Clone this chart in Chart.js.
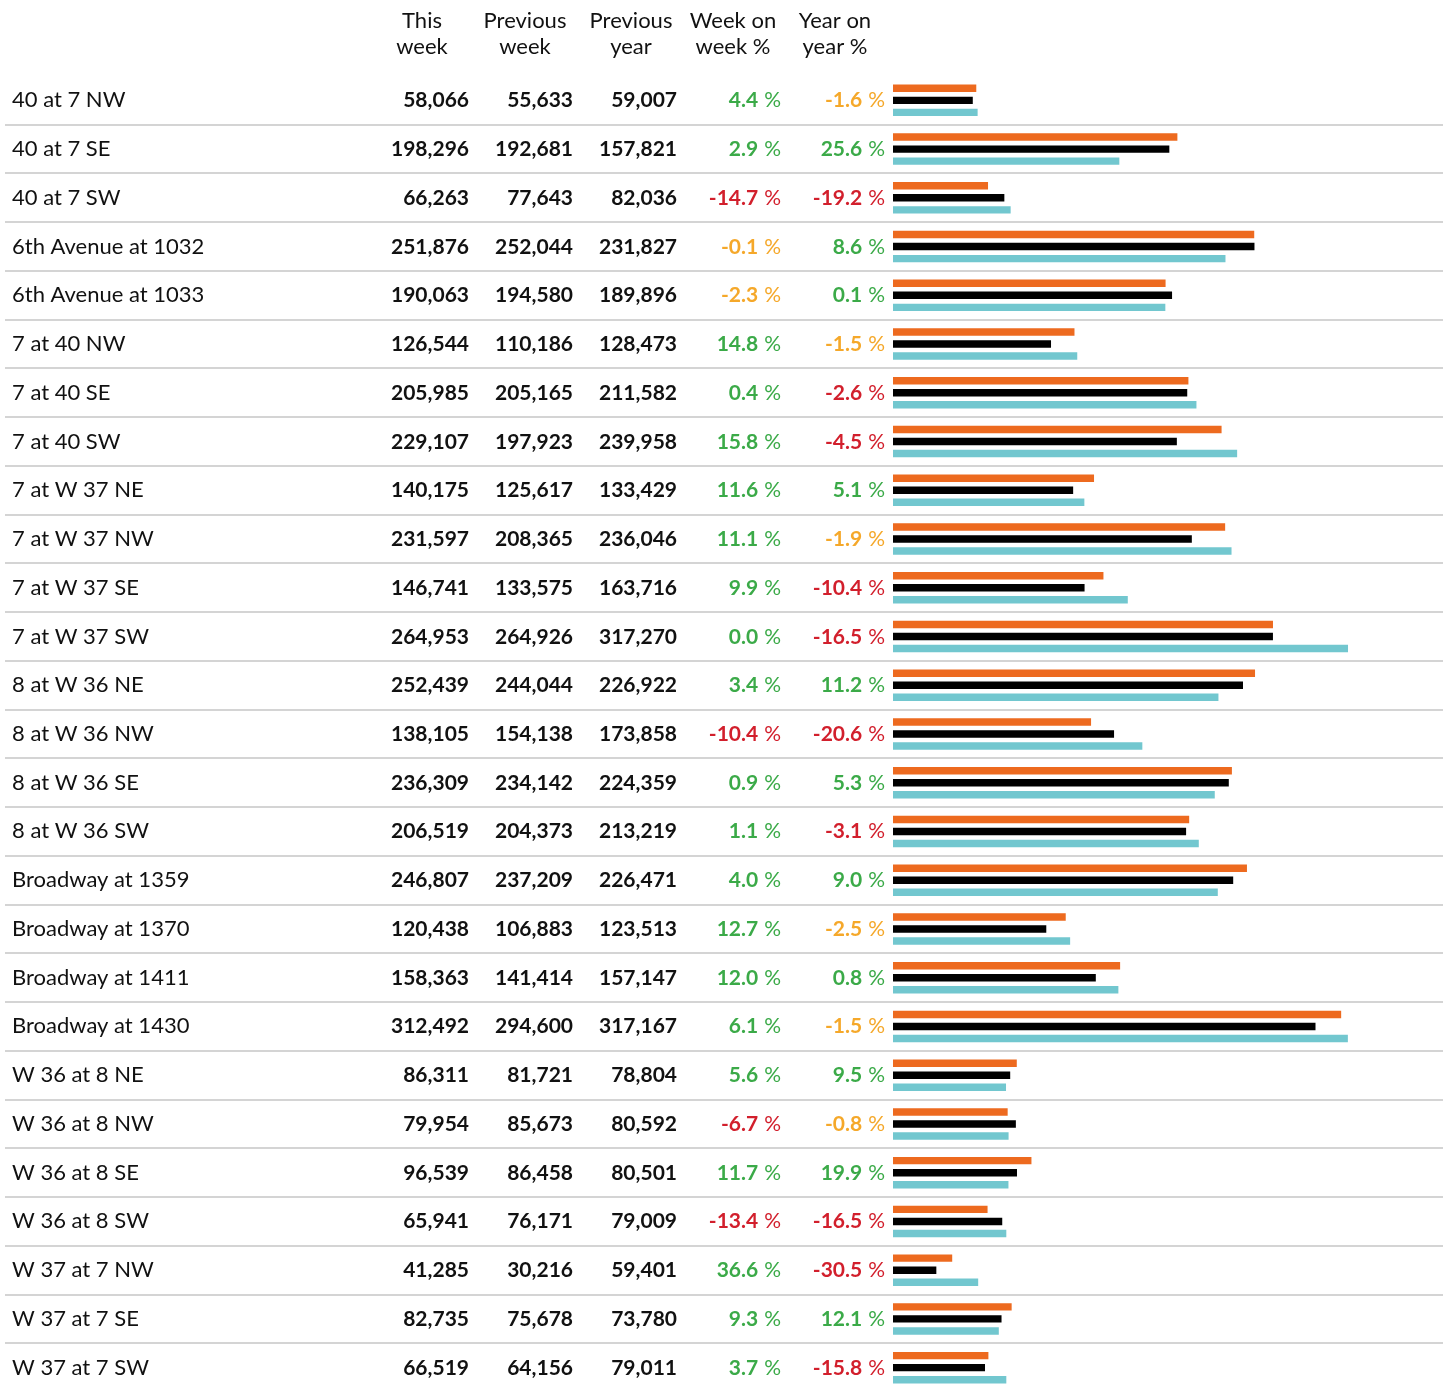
<!DOCTYPE html>
<html>
<head>
<meta charset="utf-8">
<style>
  html, body { margin: 0; padding: 0; background: #fff; overflow: hidden; }
  canvas { display: block; }
</style>
<script src="https://cdn.jsdelivr.net/npm/chart.js@4"></script>
</head>
<body>
<canvas id="chart" width="1445" height="1395"></canvas>
<script>
const locations = [
  "40 at 7 NW", "40 at 7 SE", "40 at 7 SW", "6th Avenue at 1032", "6th Avenue at 1033",
  "7 at 40 NW", "7 at 40 SE", "7 at 40 SW", "7 at W 37 NE", "7 at W 37 NW",
  "7 at W 37 SE", "7 at W 37 SW", "8 at W 36 NE", "8 at W 36 NW", "8 at W 36 SE",
  "8 at W 36 SW", "Broadway at 1359", "Broadway at 1370", "Broadway at 1411", "Broadway at 1430",
  "W 36 at 8 NE", "W 36 at 8 NW", "W 36 at 8 SE", "W 36 at 8 SW", "W 37 at 7 NW",
  "W 37 at 7 SE", "W 37 at 7 SW"
];
const thisWeek = [
  58066, 198296, 66263, 251876, 190063, 126544, 205985, 229107, 140175, 231597,
  146741, 264953, 252439, 138105, 236309, 206519, 246807, 120438, 158363, 312492,
  86311, 79954, 96539, 65941, 41285, 82735, 66519
];
const prevWeek = [
  55633, 192681, 77643, 252044, 194580, 110186, 205165, 197923, 125617, 208365,
  133575, 264926, 244044, 154138, 234142, 204373, 237209, 106883, 141414, 294600,
  81721, 85673, 86458, 76171, 30216, 75678, 64156
];
const prevYear = [
  59007, 157821, 82036, 231827, 189896, 128473, 211582, 239958, 133429, 236046,
  163716, 317270, 226922, 173858, 224359, 213219, 226471, 123513, 157147, 317167,
  78804, 80592, 80501, 79009, 59401, 73780, 79011
];
const weekOnWeek = [
  4.4, 2.9, -14.7, -0.1, -2.3, 14.8, 0.4, 15.8, 11.6, 11.1,
  9.9, 0.0, 3.4, -10.4, 0.9, 1.1, 4.0, 12.7, 12.0, 6.1,
  5.6, -6.7, 11.7, -13.4, 36.6, 9.3, 3.7
];
const yearOnYear = [
  -1.6, 25.6, -19.2, 8.6, 0.1, -1.5, -2.6, -4.5, 5.1, -1.9,
  -10.4, -16.5, 11.2, -20.6, 5.3, -3.1, 9.0, -2.5, 0.8, -1.5,
  9.5, -0.8, 19.9, -16.5, -30.5, 12.1, -15.8
];
const headers = [["This", "week"], ["Previous", "week"], ["Previous", "year"], ["Week on", "week %"], ["Year on", "year %"]];

const ORANGE = "#ED6A1F";
const BLACK = "#000000";
const TEAL = "#72C7CF";
const FONT = "Lato, 'Open Sans', sans-serif";

function pctColor(v) {
  if (v >= 0) return "#3BAA48";
  if (v > -2.55) return "#F5A82A";
  return "#D21F2C";
}

const tablePlugin = {
  id: "table",
  beforeDatasetsDraw(chart) {
    const ctx = chart.ctx;
    const y = chart.scales.y;
    ctx.save();
    ctx.strokeStyle = "#d4d4d4";
    ctx.lineWidth = 2;
    for (let i = 0; i < locations.length - 1; i++) {
      const yy = Math.round((y.getPixelForValue(i) + y.getPixelForValue(i + 1)) / 2);
      ctx.beginPath();
      ctx.moveTo(5, yy);
      ctx.lineTo(1443, yy);
      ctx.stroke();
    }
    ctx.restore();
  },
  afterDraw(chart) {
    const ctx = chart.ctx;
    const y = chart.scales.y;
    ctx.save();
    ctx.textBaseline = "alphabetic";

    // headers
    ctx.fillStyle = "#111";
    ctx.font = "22px " + FONT;
    ctx.textAlign = "center";
    const headX = [422, 525, 631, 733, 835];
    headers.forEach((h, k) => {
      ctx.fillText(h[0], headX[k], 28);
      ctx.fillText(h[1], headX[k], 54);
    });

    const numX = [469, 573, 677];
    const cols = [thisWeek, prevWeek, prevYear];
    locations.forEach((name, i) => {
      const base = y.getPixelForValue(i) + 7;
      ctx.fillStyle = "#111";
      ctx.textAlign = "left";
      ctx.font = "22px " + FONT;
      ctx.fillText(name, 12, base);

      ctx.textAlign = "right";
      ctx.font = "bold 21px " + FONT;
      cols.forEach((col, k) => ctx.fillText(col[i].toLocaleString("en-US"), numX[k], base));

      [[weekOnWeek[i], 781], [yearOnYear[i], 885]].forEach(([v, right]) => {
        ctx.fillStyle = pctColor(v);
        ctx.font = "21px " + FONT;
        const pw = ctx.measureText("%").width;
        ctx.fillText("%", right, base);
        ctx.font = "bold 21px " + FONT;
        ctx.fillText(v.toFixed(1), right - pw - 6, base);
      });
    });
    ctx.restore();
  }
};

new Chart(document.getElementById("chart"), {
  type: "bar",
  data: {
    labels: locations,
    datasets: [
      { label: "This week", data: thisWeek, backgroundColor: ORANGE },
      { label: "Previous week", data: prevWeek, backgroundColor: BLACK },
      { label: "Previous year", data: prevYear, backgroundColor: TEAL }
    ]
  },
  options: {
    indexAxis: "y",
    responsive: false,
    animation: false,
    layout: { padding: { left: 893, top: 76, bottom: 3, right: 2 } },
    datasets: { bar: { categoryPercentage: 0.74, barPercentage: 0.62 } },
    plugins: { legend: { display: false }, tooltip: { enabled: false } },
    scales: {
      x: { display: false, min: 0, max: 383500 },
      y: { display: false }
    }
  },
  plugins: [tablePlugin]
});
</script>
</body>
</html>
